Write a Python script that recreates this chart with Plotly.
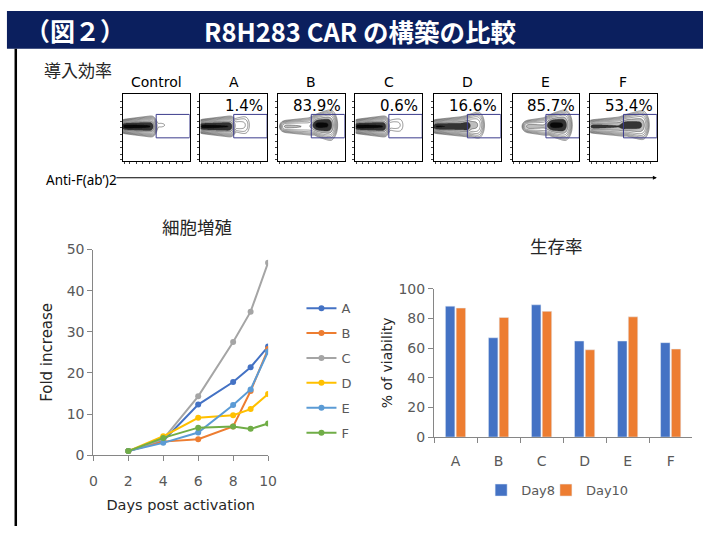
import math
import numpy as np
import plotly.graph_objects as go

# ---------------- data ----------------
# transduction efficiency panels
samples = ["Control", "A", "B", "C", "D", "E", "F"]
pct_positive = [None, 1.4, 83.9, 0.6, 16.6, 85.7, 53.4]
# x-extent of the CAR-negative streak and the CAR-positive population (relative units)
neg_extent = [(0.0, 0.45), (0.0, 0.47), (0.08, 0.52), (0.0, 0.45), (0.0, 0.52), (0.2, 0.52), (0.0, 0.52)]
pos_extent = [(0.5, 0.7), (0.5, 0.7), (0.55, 0.8), (0.5, 0.7), (0.47, 0.68), (0.55, 0.8), (0.5, 0.8)]

# cell expansion
days = [2, 4, 6, 8, 9, 10]
groups = ["A", "B", "C", "D", "E", "F"]
fold_A = [1.0, 3.5, 12.3, 17.8, 21.4, 26.4]
fold_B = [1.0, 3.3, 3.9, 7.0, 15.6, 25.8]
fold_C = [1.0, 3.9, 14.3, 27.5, 34.9, 46.8]
fold_D = [1.0, 4.6, 9.1, 9.7, 11.2, 14.9]
fold_E = [1.0, 3.0, 5.5, 12.2, 16.0, 25.2]
fold_F = [1.0, 4.2, 6.7, 7.0, 6.4, 7.7]
fold_series = [fold_A, fold_B, fold_C, fold_D, fold_E, fold_F]
line_colors = ["#4472C4", "#ED7D31", "#A5A5A5", "#FFC000", "#5B9BD5", "#70AD47"]

# viability
viability_day8 = [88.2, 66.9, 89.1, 64.7, 64.7, 63.6]
viability_day10 = [86.9, 80.6, 84.7, 58.8, 81.0, 59.3]

W, H = 712, 534
FONT = "DejaVu Sans"
CJK = "Noto Sans CJK JP"
GREY_TXT = "#595959"
AX = "#868686"


def px_x(v):
    return v / W


def px_y(v):
    return 1 - v / H


fig = go.Figure()
layout = dict(
    width=W, height=H, margin=dict(l=0, r=0, t=0, b=0),
    paper_bgcolor="white", plot_bgcolor="white", showlegend=True,
    font=dict(family=FONT, size=13, color=GREY_TXT),
)
shapes, annotations = [], []

# ---------------- header bar and frame ----------------
shapes.append(dict(type="rect", xref="paper", yref="paper", x0=px_x(3), x1=1, y0=px_y(42), y1=px_y(3),
                   fillcolor="#0B1F5E", line=dict(width=0), layer="below"))
shapes.append(dict(type="line", xref="paper", yref="paper", x0=px_x(12), x1=px_x(12), y0=0, y1=px_y(42),
                   line=dict(color="black", width=2.5)))
annotations.append(dict(text="<b>（図２）</b>", xref="paper", yref="paper", x=px_x(19), y=px_y(23),
                        xanchor="left", yanchor="middle", showarrow=False,
                        font=dict(family=CJK, size=25, color="white")))
annotations.append(dict(text="<b>R8H283 CAR の構築の比較</b>", xref="paper", yref="paper", x=px_x(363), y=px_y(23),
                        xanchor="center", yanchor="middle", showarrow=False,
                        font=dict(family=CJK, size=25.5, color="white")))

# ---------------- flow cytometry panels ----------------
annotations.append(dict(text="導入効率", xref="paper", yref="paper", x=px_x(39), y=px_y(63),
                        xanchor="left", yanchor="middle", showarrow=False,
                        font=dict(family=CJK, size=17, color="#262626")))

erf = np.vectorize(math.erf)
gx = np.linspace(0, 1, 110)
gy = np.linspace(0, 1, 110)
GX, GY = np.meshgrid(gx, gy)


def streak(a, b, y0, sx, sy, w, swell=0.6):
    along = 0.5 * (erf((GX - a) / (sx * math.sqrt(2))) - erf((GX - b) / (sx * math.sqrt(2))))
    t = np.clip((GX - a) / (b - a), 0, 1)
    s = sy * (1 + swell * t)
    across = np.exp(-((GY - y0) ** 2) / (2 * s ** 2)) / (s * math.sqrt(2 * math.pi))
    return w * along * across / (b - a)


box_left = [121, 200, 279, 358, 438, 518, 597]
box_w, box_top, box_bot = 68, 89, 158
for i, name in enumerate(samples):
    k = i + 1
    xa = "x" if k == 1 else f"x{k}"
    ya = "y" if k == 1 else f"y{k}"
    frac = (pct_positive[i] or 0.0) / 100.0
    na, nb = neg_extent[i]
    pa, pb = pos_extent[i]
    dens = (streak(na, nb, 0.52, 0.025, 0.03, 1 - frac)
            + streak(pa, pb, 0.54, 0.035, 0.045, max(frac, 0.002)))
    z = np.log10(dens + 1e-6)
    fig.add_trace(go.Contour(
        x=gx, y=gy, z=z, xaxis=xa, yaxis=ya, showscale=False, showlegend=False, hoverinfo="skip",
        zmin=-1.6, zmax=1.6, contours=dict(start=-1.2, end=1.6, size=0.35, coloring="fill"),
        colorscale=[[0, "white"], [0.64, "white"], [0.76, "#5a5a5a"], [0.86, "#111"], [1, "black"]],
        line=dict(color="#333", width=0.5),
    ))
    dom_x = [px_x(box_left[i]), px_x(box_left[i] + box_w)]
    dom_y = [px_y(box_bot), px_y(box_top)]
    axis_common = dict(range=[0, 1], showgrid=False, zeroline=False, showline=True, mirror=True,
                       linecolor="black", linewidth=1, showticklabels=False, ticks="outside",
                       ticklen=2, tickcolor="#444", tickvals=[0.02, 0.1, 0.2, 0.3, 0.4, 0.5, 0.6, 0.7, 0.8, 0.9],
                       fixedrange=True)
    layout["xaxis" if k == 1 else f"xaxis{k}"] = dict(domain=dom_x, anchor=ya, **axis_common)
    layout["yaxis" if k == 1 else f"yaxis{k}"] = dict(domain=dom_y, anchor=xa, **axis_common)
    # gate
    shapes.append(dict(type="rect", xref=xa, yref=ya, x0=0.5, x1=1.0, y0=0.35, y1=0.70,
                       line=dict(color="#3C3C8C", width=1)))
    annotations.append(dict(text=name, xref="paper", yref="paper", x=px_x(box_left[i] + box_w / 2),
                            y=px_y(76), xanchor="center", yanchor="middle", showarrow=False,
                            font=dict(family=FONT, size=14, color="black")))
    if pct_positive[i] is not None:
        annotations.append(dict(text=f"{pct_positive[i]:.1f}%", xref="paper", yref="paper",
                                x=px_x(box_left[i] + box_w - 2), y=px_y(101), xanchor="right",
                                yanchor="middle", showarrow=False,
                                font=dict(family=FONT, size=15, color="black")))

annotations.append(dict(text="Anti-F(ab’)2", xref="paper", yref="paper", x=px_x(41), y=px_y(177),
                        xanchor="left", yanchor="middle", showarrow=False,
                        font=dict(family="Noto Sans", size=13.5, color="black")))
annotations.append(dict(text="", xref="paper", yref="paper", x=px_x(665), y=px_y(175),
                        ax=-(665 - 123), ay=0, axref="pixel", ayref="pixel",
                        showarrow=True, arrowhead=2, arrowsize=0.8, arrowwidth=1, arrowcolor="black"))

# ---------------- cell expansion line chart ----------------
for g, vals, col in zip(groups, fold_series, line_colors):
    fig.add_trace(go.Scatter(
        x=days, y=vals, name=g, mode="lines+markers", xaxis="x8", yaxis="y8",
        line=dict(color=col, width=2), marker=dict(size=6, color=col),
        legend="legend", legendgroup=g,
    ))
layout["xaxis8"] = dict(domain=[px_x(91), px_x(269)], anchor="y8", range=[0, 10], dtick=2,
                        showline=True, linecolor=AX, ticks="outside", ticklen=5, tickcolor=AX,
                        showgrid=False, zeroline=False, ticklabelstandoff=8,
                        tickfont=dict(family=FONT, size=14, color=GREY_TXT),
                        title=dict(text="Days post activation", font=dict(family=FONT, size=14.5, color="#262626"),
                                   standoff=11))
layout["yaxis8"] = dict(domain=[px_y(461), px_y(249)], anchor="x8", range=[0, 50], dtick=10,
                        showline=True, linecolor=AX, ticks="outside", ticklen=5, tickcolor=AX,
                        showgrid=False, zeroline=False,
                        tickfont=dict(family=FONT, size=14, color=GREY_TXT),
                        title=dict(text="Fold increase", font=dict(family=FONT, size=15, color="#262626"),
                                   standoff=10))
annotations.append(dict(text="細胞増殖", xref="paper", yref="paper", x=px_x(197), y=px_y(225),
                        xanchor="center", yanchor="middle", showarrow=False,
                        font=dict(family=CJK, size=17.5, color="#262626")))
layout["legend"] = dict(x=px_x(303), y=px_y(294), xanchor="left", yanchor="top",
                        font=dict(family=FONT, size=13, color=GREY_TXT), tracegroupgap=5,
                        itemwidth=30, bgcolor="rgba(0,0,0,0)")

# ---------------- viability bar chart ----------------
fig.add_trace(go.Bar(x=groups, y=viability_day8, name="Day8", marker_color="#4472C4",
                     xaxis="x9", yaxis="y9", legend="legend2"))
fig.add_trace(go.Bar(x=groups, y=viability_day10, name="Day10", marker_color="#ED7D31",
                     xaxis="x9", yaxis="y9", legend="legend3"))
layout["barmode"] = "group"
layout["bargap"] = 0.5
layout["bargroupgap"] = 0.12
layout["xaxis9"] = dict(domain=[px_x(438), px_x(701)], anchor="y9", range=[-0.5, 5.5],
                        showline=True, linecolor=AX, ticks="outside", tickson="boundaries", ticklen=5,
                        tickcolor=AX, showgrid=False, zeroline=False, ticklabelstandoff=11,
                        tickfont=dict(family=FONT, size=14, color=GREY_TXT))
layout["yaxis9"] = dict(domain=[px_y(442.3), px_y(289.3)], anchor="x9", range=[0, 100], dtick=20,
                        showline=True, linecolor=AX, ticks="outside", ticklen=5, tickcolor=AX,
                        showgrid=False, zeroline=False,
                        tickfont=dict(family=FONT, size=14, color=GREY_TXT),
                        title=dict(text="% of viability", font=dict(family=FONT, size=14, color="#262626"),
                                   standoff=2))
annotations.append(dict(text="生存率", xref="paper", yref="paper", x=px_x(563), y=px_y(245),
                        xanchor="center", yanchor="middle", showarrow=False,
                        font=dict(family=CJK, size=17.5, color="#262626")))
for key, left_px in (("legend2", 486), ("legend3", 552)):
    layout[key] = dict(x=px_x(left_px), y=px_y(497), xanchor="left", yanchor="middle", orientation="h",
                       font=dict(family=FONT, size=13, color=GREY_TXT), itemwidth=30,
                       bgcolor="rgba(0,0,0,0)")

layout["shapes"] = shapes
layout["annotations"] = annotations
fig.update_layout(**layout)
fig.write_html("out.html")
